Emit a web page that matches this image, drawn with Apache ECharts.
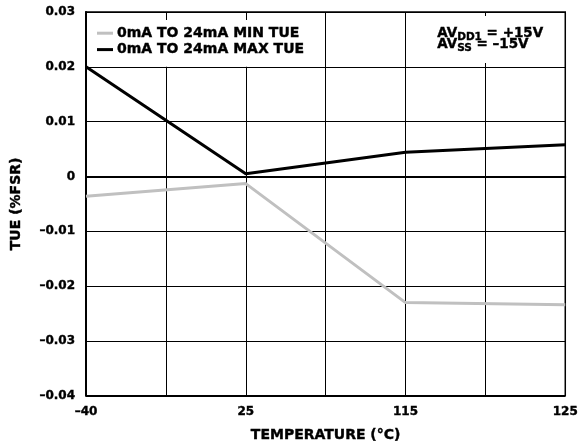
<!DOCTYPE html>
<html>
<head>
<meta charset="utf-8">
<script src="https://cdn.jsdelivr.net/npm/echarts@6/dist/echarts.min.js"></script>
<style>html,body{margin:0;padding:0;background:#fff}#c{width:581px;height:448px}</style>
</head>
<body>
<div id="c"></div>
<script>
// Data
const categories = ['–40', '', '25', '', '115', '', '125'];
const minTueName = '0mA TO 24mA MIN TUE';
const maxTueName = '0mA TO 24mA MAX TUE';
const minTue = [-0.0036, null, -0.0013, null, -0.0230, null, -0.0234];
const maxTue = [0.0200, null, 0.0005, null, 0.0044, null, 0.0058];
const yMin = -0.04, yMax = 0.03, yStep = 0.01;

const FONT = 'DejaVu Sans';
const HEAVY = {textBorderColor: '#000', textBorderWidth: 0.4};
const GHEAVY = {stroke: '#000', lineWidth: 0.4};
const chart = echarts.init(document.getElementById('c'), null, {renderer: 'canvas'});
chart.setOption({
  animation: false,
  backgroundColor: '#fff',
  grid: {left: 86, right: 14, top: 12, bottom: 51, show: true, borderColor: '#000', borderWidth: 1.5, backgroundColor: 'transparent'},
  legend: {
    orient: 'vertical', left: 92, top: 20,
    padding: [6, 6, 10, 5], itemGap: 2,
    backgroundColor: '#fff',
    itemWidth: 16, itemHeight: 3, icon: 'rect',
    textStyle: Object.assign({fontFamily: FONT, fontWeight: 'bold', fontSize: 14, color: '#000', padding: [0, 0, 0, -1]}, HEAVY),
    data: [minTueName, maxTueName]
  },
  xAxis: {
    type: 'category', data: categories, boundaryGap: false,
    name: 'TEMPERATURE (°C)', nameLocation: 'middle', nameGap: 33,
    nameTextStyle: Object.assign({fontFamily: FONT, fontWeight: 'bold', fontSize: 14, color: '#000'}, HEAVY),
    axisLine: {show: true, lineStyle: {color: '#000', width: 2}},
    axisTick: {show: false},
    axisLabel: Object.assign({interval: 0, margin: 10, fontFamily: FONT, fontWeight: 'bold', fontSize: 12, color: '#000'}, HEAVY),
    splitLine: {show: true, interval: 0, lineStyle: {color: '#000', width: 1}}
  },
  yAxis: {
    type: 'value', min: yMin, max: yMax, interval: yStep,
    name: 'TUE (%FSR)', nameLocation: 'middle', nameGap: 63,
    nameTextStyle: Object.assign({fontFamily: FONT, fontWeight: 'bold', fontSize: 14, color: '#000'}, HEAVY),
    axisLine: {show: true, lineStyle: {color: '#000', width: 2}},
    axisTick: {show: false},
    axisLabel: Object.assign({
      margin: 11, fontFamily: FONT, fontWeight: 'bold', fontSize: 12, color: '#000', padding: [4, 0, 0, 0],
      formatter: v => Math.abs(v) < 1e-9 ? '0' : v.toFixed(2).replace('-', '–')
    }, HEAVY),
    splitLine: {show: true, lineStyle: {color: '#000', width: 1}}
  },
  series: [
    {name: minTueName, type: 'line', data: minTue, connectNulls: true, symbol: 'none',
     lineStyle: {color: '#c0c0c0', width: 3}, itemStyle: {color: '#c0c0c0'}, z: 3},
    {name: maxTueName, type: 'line', data: maxTue, connectNulls: true, symbol: 'none',
     lineStyle: {color: '#000', width: 3}, itemStyle: {color: '#000'}, z: 4}
  ],
  graphic: [
    {type: 'rect', z: 100, shape: {x: 430, y: 16, width: 122, height: 47}, style: {fill: '#fff'}},
    {type: 'text', z: 101, left: 437, top: 24,
     style: {text: '{m|AV}{s|DD1}{m| = +15V}', rich: {
       m: Object.assign({fontFamily: FONT, fontWeight: 'bold', fontSize: 13.5, lineHeight: 14, fill: '#000'}, GHEAVY),
       s: Object.assign({fontFamily: FONT, fontWeight: 'bold', fontSize: 10.5, lineHeight: 14, padding: [8, 0, 0, 0], fill: '#000'}, GHEAVY)
     }}},
    {type: 'text', z: 101, left: 437, top: 35,
     style: {text: '{m|AV}{s|SS}{m| = –15V}', rich: {
       m: Object.assign({fontFamily: FONT, fontWeight: 'bold', fontSize: 13.5, lineHeight: 14, fill: '#000'}, GHEAVY),
       s: Object.assign({fontFamily: FONT, fontWeight: 'bold', fontSize: 10.5, lineHeight: 14, padding: [8, 0, 0, 0], fill: '#000'}, GHEAVY)
     }}}
  ]
});
</script>
</body>
</html>
